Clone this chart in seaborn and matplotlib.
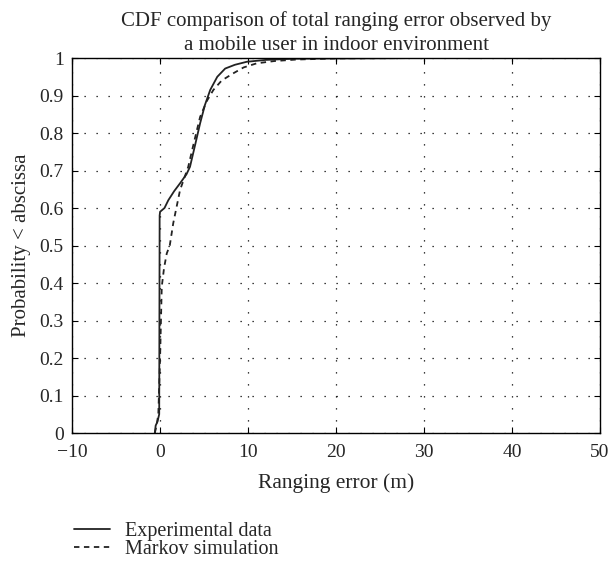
import matplotlib
matplotlib.use('Agg')
import matplotlib.pyplot as plt
import seaborn as sns
import pandas as pd
from matplotlib.lines import Line2D

# CDF points (ranging error in m, cumulative probability)
exp_x = [-0.6, -0.5, -0.3, -0.1, -0.05, 0.0, 0.5, 0.94, 1.6, 2.27, 3.0, 3.4, 4.0, 4.55, 5.1, 5.7, 6.5, 7.4, 8.5, 9.85, 12.0, 15.0, 20.0, 30.0, 45.0]
exp_p = [0.0, 0.02, 0.03, 0.05, 0.58, 0.59, 0.60, 0.621, 0.645, 0.666, 0.69, 0.71, 0.77, 0.826, 0.875, 0.915, 0.95, 0.972, 0.982, 0.99, 0.995, 0.998, 0.999, 1.0, 1.0]

mk_x = [-0.6, -0.4, -0.2, 0.0, 0.19, 0.45, 0.76, 1.1, 1.5, 2.27, 3.2, 3.9, 4.55, 5.3, 6.06, 7.0, 8.3, 9.5, 11.0, 13.0, 15.5, 20.0, 30.0, 45.0]
mk_p = [0.0, 0.02, 0.05, 0.2, 0.39, 0.44, 0.479, 0.50, 0.56, 0.648, 0.71, 0.78, 0.843, 0.885, 0.915, 0.94, 0.959, 0.975, 0.986, 0.992, 0.996, 0.999, 1.0, 1.0]

xticks = [-10, 0, 10, 20, 30, 40, 50]
yticks = [0, 0.1, 0.2, 0.3, 0.4, 0.5, 0.6, 0.7, 0.8, 0.9, 1]
ytick_labels = ['0', '0.1', '0.2', '0.3', '0.4', '0.5', '0.6', '0.7', '0.8', '0.9', '1']

df = pd.concat([
    pd.DataFrame({'x': exp_x, 'p': exp_p, 'series': 'Experimental data'}),
    pd.DataFrame({'x': mk_x, 'p': mk_p, 'series': 'Markov simulation'}),
])

sns.set_style('ticks')
plt.rcParams['font.family'] = ['Liberation Serif', 'DejaVu Serif']

fig = plt.figure(figsize=(6.11, 5.69), dpi=100)
ax = fig.add_axes([0.118, 0.239, 0.864, 0.659])

sns.lineplot(data=df, x='x', y='p', hue='series', style='series', sort=False,
             estimator=None, units='series',
             palette={'Experimental data': '#222222', 'Markov simulation': '#222222'},
             dashes={'Experimental data': '', 'Markov simulation': (3, 2.5)},
             linewidth=1.3, ax=ax, legend=False)

ax.set_xlim(-10, 50)
ax.set_ylim(0, 1)
ax.set_xticks(xticks)
ax.set_yticks(yticks)
ax.set_yticklabels(ytick_labels)
ax.grid(True, color='black', linestyle=(0, (1, 8.6)), linewidth=0.9)
ax.tick_params(direction='in', top=True, right=True, length=4, labelsize=14, color='black')
ax.tick_params(axis='x', pad=8)
ax.tick_params(axis='y', pad=6)
for s in ax.spines.values():
    s.set_visible(True)
    s.set_color('black')
    s.set_linewidth(1.0)

ax.set_xlabel('Ranging error (m)', fontsize=15.5, labelpad=9)
ax.set_ylabel('Probability < abscissa', fontsize=15, labelpad=6)
ax.set_title('CDF comparison of total ranging error observed by\na mobile user in indoor environment',
             fontsize=15, pad=6, linespacing=1.35)

handles = [Line2D([], [], color='#222222', lw=1.3),
           Line2D([], [], color='#222222', lw=1.3, linestyle=(0, (3, 2.5)))]
fig.legend(handles, ['Experimental data', 'Markov simulation'], loc='upper left',
           bbox_to_anchor=(0.098, 0.108), frameon=False, fontsize=14.5,
           handlelength=1.8, handletextpad=0.75, labelspacing=-0.05,
           borderpad=0.2, bbox_transform=fig.transFigure)

fig.savefig('out.png', dpi=100)
